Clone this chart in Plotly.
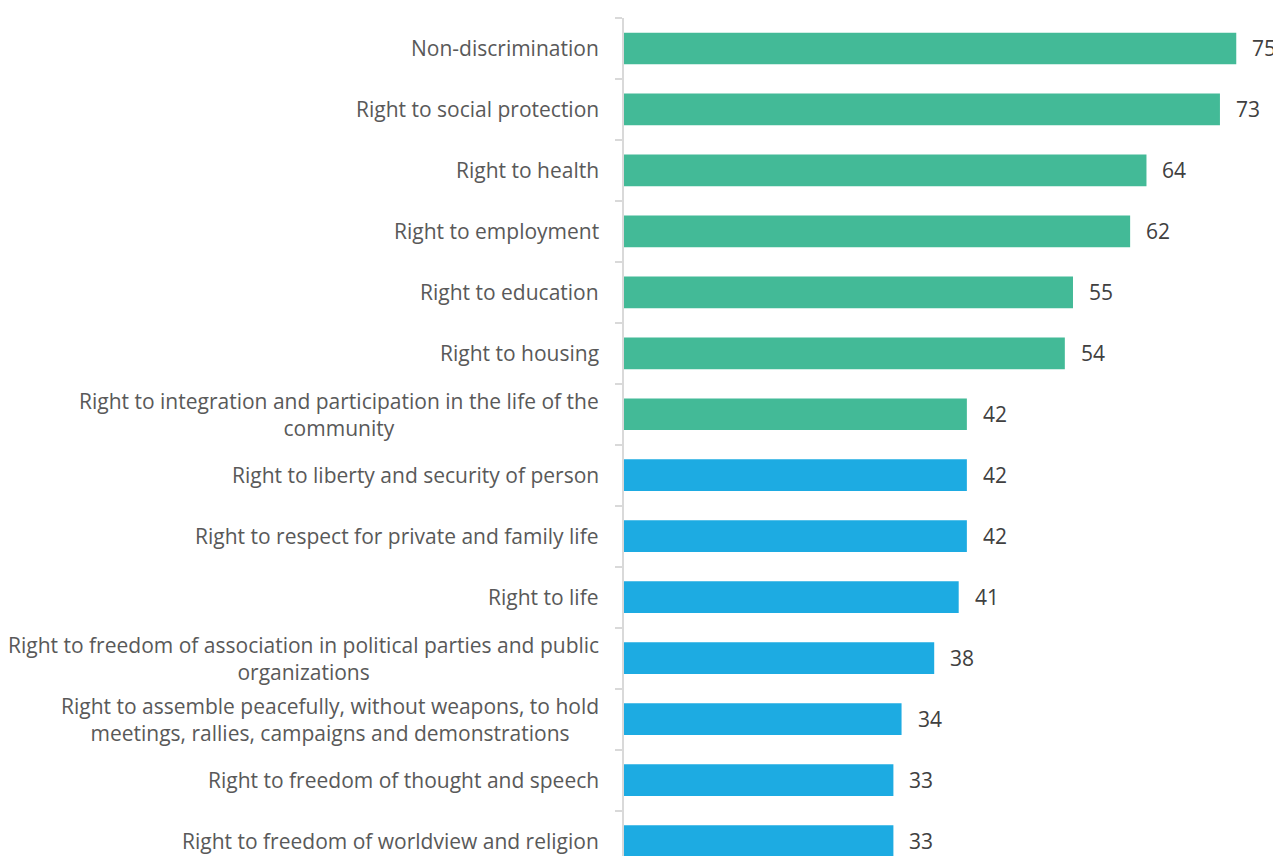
import plotly.graph_objects as go

categories = [
    "Non-discrimination",
    "Right to social protection",
    "Right to health",
    "Right to employment",
    "Right to education",
    "Right to housing",
    "Right to integration and participation in the life of the<br>community",
    "Right to liberty and security of person",
    "Right to respect for private and family life",
    "Right to life",
    "Right to freedom of association in political parties and public<br>organizations",
    "Right to assemble peacefully, without weapons, to hold<br>meetings, rallies, campaigns and demonstrations",
    "Right to freedom of thought and speech",
    "Right to freedom of worldview and religion",
]
values = [75, 73, 64, 62, 55, 54, 42, 42, 42, 41, 38, 34, 33, 33]
groups = ["social"] * 7 + ["civil"] * 7

GREEN = "#43BA97"
BLUE = "#1DABE2"
colors = [GREEN if g == "social" else BLUE for g in groups]

fig = go.Figure()
fig.add_trace(go.Bar(
    x=values,
    y=categories,
    orientation="h",
    marker=dict(color=colors, line=dict(width=0)),
    width=0.52,
    hoverinfo="x+y",
))

annotations = []
for c, v in zip(categories, values):
    annotations.append(dict(
        x=0, y=c, xref="x", yref="y", text=c, showarrow=False,
        xanchor="right", yanchor="middle", align="center", xshift=-23,
        font=dict(family="Open Sans", size=21, color="#595959"),
    ))
    annotations.append(dict(
        x=v, y=c, xref="x", yref="y", text=str(v), showarrow=False,
        xanchor="left", yanchor="middle", xshift=14,
        font=dict(family="Open Sans", size=21, color="#404040"),
    ))

fig.update_layout(
    width=1273, height=848,
    margin=dict(l=616, r=8, t=9.5, b=0),
    paper_bgcolor="white", plot_bgcolor="white",
    showlegend=False,
    annotations=annotations,
    bargap=0.48,
)
fig.update_xaxes(range=[0, 79.5], visible=False, showgrid=False, zeroline=False)
fig.update_yaxes(
    type="category", categoryorder="array", categoryarray=categories,
    range=[13.246, -0.5],
    showticklabels=False, showgrid=False, zeroline=False,
    showline=True, linecolor="#D9D9D9", linewidth=1.5,
    ticks="outside", ticklen=7, tickcolor="#D9D9D9", tickwidth=1.5,
    tickson="boundaries",
)

fig.write_html("out.html")
